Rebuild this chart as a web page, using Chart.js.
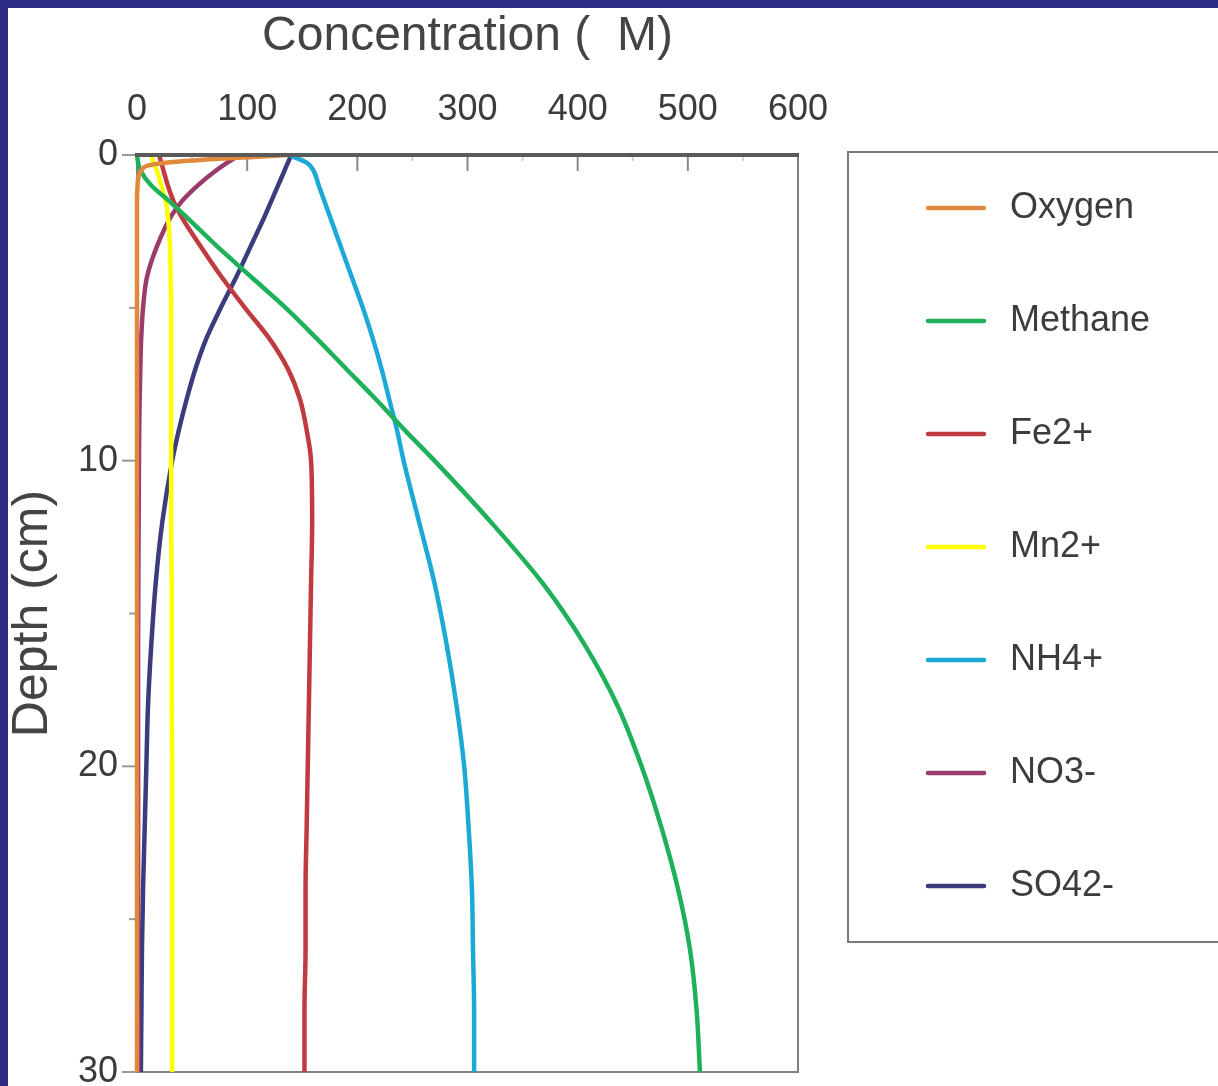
<!DOCTYPE html>
<html>
<head>
<meta charset="utf-8">
<title>Concentration profiles</title>
<script src="https://cdn.jsdelivr.net/npm/chart.js@4.4.1/dist/chart.umd.min.js"></script>
<style>
  html, body { margin: 0; padding: 0; background: #2d2d88; overflow: hidden; }
  #wrap { position: absolute; left: 8px; top: 8px; width: 1210px; height: 1078px; background: #fff; }
</style>
</head>
<body>
<div id="wrap"><canvas id="profileChart" width="1210" height="1078"></canvas></div>
<script>
// depth (cm) at which every profile was read
const depths = [0, 0.25, 0.5, 1, 1.5, 2, 3, 4, 5, 6, 7, 8, 9, 10, 12, 14, 16, 18, 20, 22, 24, 26, 28, 30];

// concentrations (uM) at those depths
const oxygen  = [136, 26, 4, 0.5, 0, 0, 0, 0, 0, 0, 0, 0, 0, 0, 0, 0, 0, 0, 0, 0, 0, 0, 0, 0];
const methane = [0, 1, 3, 13, 29, 44, 73, 104, 135, 163, 190, 217, 243, 270, 321, 368, 406, 436, 458, 476, 491, 502, 508, 511];
const fe2     = [20, 22, 24, 28, 33, 40, 58, 77, 98, 120, 137, 148, 154, 158, 159, 158, 157, 156, 155, 154, 153, 153, 152, 152];
const mn2     = [13, 15, 18, 22, 26, 28, 30, 30.5, 31, 31, 31, 31, 31, 31, 31, 31.5, 31.5, 31.5, 32, 32, 32, 32, 32, 32];
const nh4     = [138, 154, 160, 165, 170, 175, 185, 195, 205, 214, 222, 229, 236, 242, 256, 270, 281, 290, 297, 301, 304, 305, 306, 306];
const no3     = [93, 82, 72, 55, 41, 31, 18, 9, 5.5, 3.8, 3, 2.4, 2, 1.8, 1.5, 1.2, 1, 1, 1, 1, 1, 1, 1, 1];
const so4     = [140, 137, 134, 128, 122, 116, 103, 90, 76, 63, 53, 45, 38, 32, 23, 17, 13, 10, 8.5, 7, 5.5, 4.5, 4, 3.5];

const seriesNames = ['Oxygen', 'Methane', 'Fe2+', 'Mn2+', 'NH4+', 'NO3-', 'SO42-'];
const seriesData = [oxygen, methane, fe2, mn2, nh4, no3, so4];
const seriesColors = ['#e0893d', '#1fb05a', '#bf3b40', '#ffff00', '#1ca9d6', '#9a3b6b', '#3b3b7d'];

// axis tick values
const xMajor = [100, 200, 300, 400, 500];
const xMinor = [50, 150, 250, 350, 450, 550];
const yMajor = [0, 10, 20, 30];
const yMinor = [5, 15, 25];

const fontFamily = '"Liberation Sans", Arial, Helvetica, sans-serif';
const textColor = '#3c3c3c';

const datasets = seriesNames.map(function(name, i) {
    return {
        label: name,
        data: depths.map(function(d, j) { return { x: seriesData[i][j], y: d }; }),
        borderColor: seriesColors[i],
        backgroundColor: seriesColors[i],
        borderWidth: 4.5,
        pointRadius: 0,
        fill: false,
        cubicInterpolationMode: 'monotone',
        clip: 6
    };
});

// frame, tick marks and the boxed legend
const framePlugin = {
    id: 'frame',
    beforeDatasetsDraw: function(chart) {
        const ctx = chart.ctx;
        const a = chart.chartArea;
        const xs = chart.scales.x, ys = chart.scales.y;
        ctx.save();
        ctx.strokeStyle = '#808080';
        ctx.lineWidth = 2;
        ctx.beginPath();
        ctx.moveTo(a.left, a.top); ctx.lineTo(a.left, a.bottom);
        ctx.lineTo(a.right, a.bottom); ctx.lineTo(a.right, a.top);
        ctx.stroke();
        // left axis ticks point outwards
        ctx.strokeStyle = '#9a9a9a';
        yMajor.forEach(function(v) {
            const y = ys.getPixelForValue(v);
            ctx.beginPath(); ctx.moveTo(a.left - 15, y); ctx.lineTo(a.left, y); ctx.stroke();
        });
        yMinor.forEach(function(v) {
            const y = ys.getPixelForValue(v);
            ctx.beginPath(); ctx.moveTo(a.left - 8, y); ctx.lineTo(a.left, y); ctx.stroke();
        });
        // top axis ticks point inwards
        ctx.strokeStyle = '#8a8a8a';
        xMajor.forEach(function(v) {
            const x = xs.getPixelForValue(v);
            ctx.beginPath(); ctx.moveTo(x, a.top); ctx.lineTo(x, a.top + 16); ctx.stroke();
        });
        ctx.strokeStyle = '#d0d0d0';
        xMinor.forEach(function(v) {
            const x = xs.getPixelForValue(v);
            ctx.beginPath(); ctx.moveTo(x, a.top); ctx.lineTo(x, a.top + 6); ctx.stroke();
        });
        ctx.restore();
    },
    afterDatasetsDraw: function(chart) {
        const ctx = chart.ctx;
        const a = chart.chartArea;
        ctx.save();
        ctx.strokeStyle = '#5a5a5a';
        ctx.lineWidth = 4;
        ctx.beginPath(); ctx.moveTo(a.left - 2, a.top); ctx.lineTo(a.right + 1, a.top); ctx.stroke();

        // legend box
        ctx.strokeStyle = '#7a7a7a';
        ctx.lineWidth = 2;
        ctx.strokeRect(840, 144, 500, 790);
        ctx.font = '36px ' + fontFamily;
        ctx.textBaseline = 'middle';
        ctx.textAlign = 'left';
        chart.data.datasets.forEach(function(ds, i) {
            const y = 200 + i * 113;
            ctx.strokeStyle = ds.borderColor;
            ctx.lineWidth = 4.5;
            ctx.lineCap = 'round';
            ctx.beginPath(); ctx.moveTo(920, y); ctx.lineTo(976, y); ctx.stroke();
            ctx.fillStyle = textColor;
            ctx.fillText(ds.label, 1002, y);
        });
        ctx.restore();
    }
};

const ctx = document.getElementById('profileChart').getContext('2d');
const profileChart = new Chart(ctx, {
    type: 'line',
    data: { datasets: datasets },
    options: {
        responsive: false,
        animation: false,
        indexAxis: 'y',
        layout: { padding: { left: 0, top: 0, right: 420, bottom: 14 } },
        plugins: {
            legend: { display: false },
            tooltip: { enabled: false }
        },
        scales: {
            x: {
                type: 'linear',
                position: 'top',
                min: 0,
                max: 600,
                grid: { display: false },
                border: { display: false },
                ticks: {
                    stepSize: 100,
                    padding: 15,
                    color: textColor,
                    font: { family: fontFamily, size: 36 }
                },
                title: {
                    display: true,
                    text: 'Concentration (  M)',
                    color: '#444',
                    padding: { top: 5, bottom: 0 },
                    font: { family: fontFamily, size: 48, lineHeight: 1 }
                },
                afterFit: function(s) { s.height = 147; s.paddingLeft = 0; s.paddingRight = 0; }
            },
            y: {
                type: 'linear',
                position: 'left',
                reverse: true,
                min: 0,
                max: 30,
                grid: { display: false },
                border: { display: false },
                ticks: {
                    stepSize: 10,
                    padding: 11,
                    color: textColor,
                    font: { family: fontFamily, size: 36 }
                },
                title: {
                    display: true,
                    text: 'Depth (cm)',
                    color: '#444',
                    padding: 0,
                    font: { family: fontFamily, size: 50, lineHeight: 1 }
                },
                afterFit: function(s) { s.width = 129; s.paddingTop = 0; s.paddingBottom = 0; }
            }
        }
    },
    plugins: [framePlugin]
});
</script>
</body>
</html>
